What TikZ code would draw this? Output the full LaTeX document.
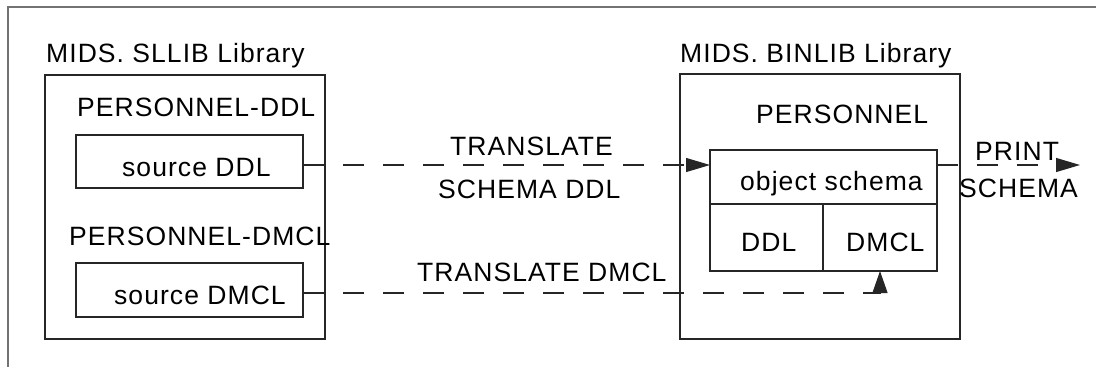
\documentclass[tikz,border=0pt]{standalone}
\usepackage{fontspec}
\setmainfont{Liberation Sans}[LetterSpace=4]
\usetikzlibrary{arrows.meta}

\begin{document}
\begin{tikzpicture}[
x=1pt, y=-1pt,
frame/.style={draw=black!55, line width=1.6pt},
box/.style={draw=black!85, line width=1.2pt, inner sep=0pt, outer sep=0pt},
lbl/.style={font=\fontsize{26.5}{30}\selectfont, inner sep=0pt, anchor=base west},
conn/.style={draw=black!85, line width=1.2pt, dash pattern=on 21pt off 19pt},
tip/.style={-{Triangle[length=24pt,width=14pt]}}
]
\useasboundingbox (0,0) rectangle (1096,367);

\draw[frame] (1096,7) -- (8,7) -- (8,367);

% library boxes
\node[box, minimum width=280pt, minimum height=264pt] (sllib) at (185,207) {};
\node[box, minimum width=280pt, minimum height=265pt] (binlib) at (820,206.5) {};

\node[box, minimum width=227pt, minimum height=53pt] (srcddl) at (189.5,161.5) {};
\node[box, minimum width=227pt, minimum height=54pt] (srcdmcl) at (189.5,290) {};

\node[box, minimum width=227pt, minimum height=54pt] (objschema) at (823.5,177) {};
\node[box, minimum width=113pt, minimum height=67pt] (ddlpart) at (766.5,237.5) {};
\node[box, minimum width=114pt, minimum height=67pt] (dmclpart) at (880,237.5) {};

% labels
\node[lbl] (sltitle) at (46,62) {MIDS. SLLIB Library};
\node[lbl] (bintitle) at (680,62) {MIDS. BINLIB Library};
\node[lbl] (persddl) at (77,116) {PERSONNEL-DDL};
\node[lbl] (srcddltxt) at (122,176) {source DDL};
\node[lbl] (persdmcl) at (69,245) {PERSONNEL-DMCL};
\node[lbl] (srcdmcltxt) at (114,304) {source DMCL};
\node[lbl] (pers) at (756,123) {PERSONNEL};
\node[lbl] (objtxt) at (740,190) {object schema};
\node[lbl] (ddltxt) at (741,251) {DDL};
\node[lbl] (dmcltxt) at (846,251) {DMCL};
\node[lbl] (transddl) at (450,155) {TRANSLATE};
\node[lbl] (schemaddl) at (438,198) {SCHEMA DDL};
\node[lbl] (transdmcl) at (417,281) {TRANSLATE DMCL};
\node[lbl] (print) at (975,160) {PRINT};
\node[lbl] (printschema) at (959,197) {SCHEMA};

% connectors
\coordinate (ddlrow) at (0,165);
\coordinate (dmclrow) at (0,293);
\coordinate (printend) at (1080,165);

\draw[conn, tip] (srcddl.east |- ddlrow) -- (objschema.west |- ddlrow);
\draw[conn, tip] (objschema.east |- ddlrow) -- (printend);
\draw[conn, -{Triangle[length=22pt,width=15pt]}] (srcdmcl.east |- dmclrow) -| (dmclpart.south);
\end{tikzpicture}
\end{document}
